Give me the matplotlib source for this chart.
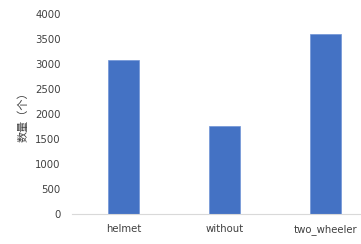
import matplotlib.pyplot as plt
import numpy as np

categories = ["helmet", "without", "two_wheeler"]
counts = [3080, 1760, 3600]
yticks = [0, 500, 1000, 1500, 2000, 2500, 3000, 3500, 4000]

plt.rcParams['font.family'] = ['DejaVu Sans', 'Noto Sans CJK SC']

fig = plt.figure(figsize=(3.61, 2.44), dpi=100)
ax = fig.add_axes([72 / 361, 30 / 244, 303 / 361, 200 / 244])

x = np.arange(len(categories))
ax.bar(x, counts, width=0.31, color="#4472C4", edgecolor="#6f93d6", linewidth=0.5)

ax.set_xlim(-0.51, 2.49)
ax.set_ylim(0, 4000)
ax.set_yticks(yticks)
ax.set_xticks(x, categories)
ax.tick_params(axis="both", length=0, labelsize=7.3, colors="#404040")
ax.tick_params(axis="y", pad=8)
ax.tick_params(axis="x", pad=7)

for side in ["top", "right", "left"]:
    ax.spines[side].set_visible(False)
ax.spines["bottom"].set_color("#d9d9d9")
ax.spines["bottom"].set_linewidth(0.8)

ax.set_ylabel("数量（个）", family=["Noto Sans CJK SC"], fontsize=8, color="#404040")
ax.yaxis.set_label_coords(-0.145, 0.5)

plt.savefig("out.png", dpi=100)
